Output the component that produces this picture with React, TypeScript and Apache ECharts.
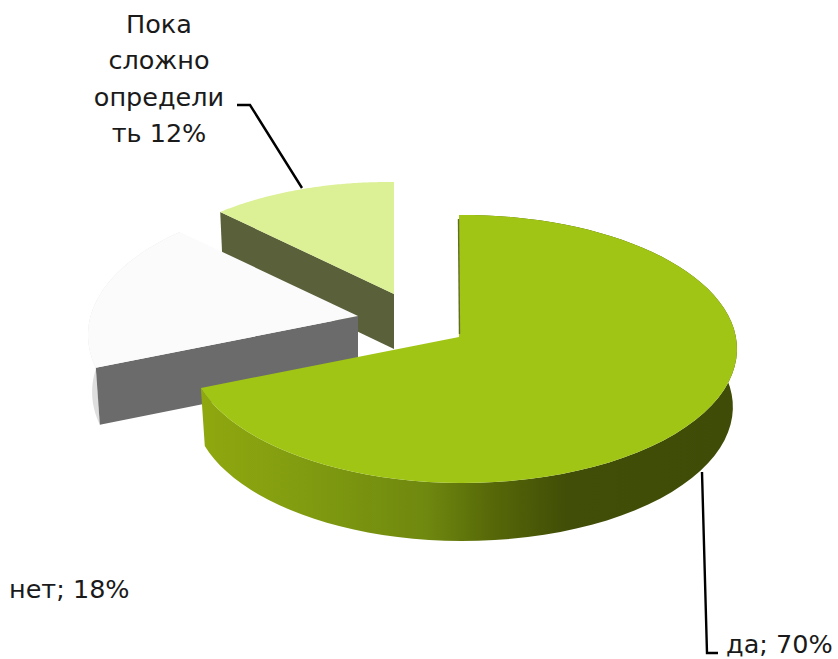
import React, { useEffect, useRef } from "react";
import * as echarts from "echarts";

const categories = ["да", "нет", "Пока сложно определить"];
const values = [70, 18, 12];
const wrappedLabel = ["Пока", "сложно", "определи", "ть 12%"];

const FONT = "'DejaVu Sans'";
const TILT_Y = 0.482;
const TILT_X = -0.041;
const SAMPLES = 80;
const BOTTOM_SCALE = 0.985;

// Screen geometry of each slice (apex, outer ellipse, extrusion depth, paint order)
const geometry = [
  { ax: 459, ay: 337, cx: 463, cy: 349, rx: 274, ry: 134, depth: 58, z: 30 },
  { ax: 358, ay: 316, cx: 362, cy: 335, rx: 274, ry: 138, depth: 57, z: 20 },
  { ax: 394, ay: 294, cx: 388, cy: 311, rx: 262, ry: 129, depth: 55, z: 10 },
];

const edgePoint = (g: any, theta: number) => {
  const dx = Math.sin(theta);
  const dy = -TILT_Y * Math.cos(theta) + TILT_X * Math.sin(theta);
  const ox = g.ax - g.cx;
  const oy = g.ay - g.cy;
  const a = (dx * dx) / (g.rx * g.rx) + (dy * dy) / (g.ry * g.ry);
  const b = 2 * ((ox * dx) / (g.rx * g.rx) + (oy * dy) / (g.ry * g.ry));
  const c = (ox * ox) / (g.rx * g.rx) + (oy * oy) / (g.ry * g.ry) - 1;
  const t = (-b + Math.sqrt(b * b - 4 * a * c)) / (2 * a);
  return [g.ax + t * dx, g.ay + t * dy];
};

const arcPoints = (g: any, from: number, to: number) => {
  const pts: number[][] = [];
  for (let i = 0; i <= SAMPLES; i++) pts.push(edgePoint(g, from + ((to - from) * i) / SAMPLES));
  return pts;
};

// Lower rim of a slice: dropped by its depth and pulled in slightly by the perspective
const lower = (g: any, p: number[]) => [g.cx + (p[0] - g.cx) * BOTTOM_SCALE, p[1] + g.depth];

const sideGradient = () =>
  new echarts.graphic.LinearGradient(
    203, 0, 737, 0,
    [
      { offset: 0, color: "#8fa80f" },
      { offset: 0.2, color: "#809b10" },
      { offset: 0.42, color: "#6f880f" },
      { offset: 0.54, color: "#566808" },
      { offset: 0.68, color: "#414e07" },
      { offset: 1, color: "#3f4c07" },
    ],
    true
  );

const renderSlice = (params: any, api: any) => {
  const idx = params.dataIndex;
  const total = values.reduce((s, v) => s + v, 0);
  const before = values.slice(0, idx).reduce((s, v) => s + v, 0);
  const from = (before / total) * Math.PI * 2;
  const to = ((before + api.value(0)) / total) * Math.PI * 2;
  const g = geometry[idx];
  const arc = arcPoints(g, from, to);
  const apex = [g.ax, g.ay];
  const poly = (points: number[][], fill: any, z2: number) => ({
    type: "polygon",
    shape: { points },
    style: { fill },
    z2,
  });
  const wall = (p: number[], fill: any, z2: number) =>
    poly([apex, p, lower(g, p), [apex[0], apex[1] + g.depth]], fill, z2);
  const curved = (fill: any, z2: number) =>
    poly([...arc, ...arc.map((p) => lower(g, p)).reverse()], fill, z2);
  const top = (fill: any, z2: number) => poly([apex, ...arc], fill, z2);
  const children: any[] = [];
  if (idx === 0) {
    children.push(curved(sideGradient(), g.z));
    children.push(top("#a0c514", g.z + 1));
    children.push({
      type: "line",
      shape: { x1: arc[0][0] - 0.5, y1: arc[0][1] + 4, x2: apex[0] + 0.5, y2: apex[1] - 3 },
      style: { stroke: "#5f6e25", lineWidth: 1.4 },
      z2: g.z + 2,
    });
  } else if (idx === 1) {
    children.push(curved("#dedede", g.z));
    children.push(wall(arc[0], "#6b6b6b", g.z + 1));
    children.push(top("#fbfbfb", g.z + 2));
  } else {
    children.push(wall(arc[0], "#5a6039", g.z));
    children.push(top("#dcf095", g.z + 1));
  }
  return { type: "group", children };
};

const label = (text: string, x: number, y: number, align: string) => ({
  type: "text",
  x,
  y,
  z: 50,
  style: {
    text,
    x: 0,
    y: 0,
    fill: "#1a1a1a",
    font: `25.5px ${FONT}, sans-serif`,
    textAlign: align,
    textVerticalAlign: "middle",
  },
});

const leader = (points: number[][]) => ({
  type: "polyline",
  z: 50,
  shape: { points },
  style: { stroke: "#000000", lineWidth: 2.4, fill: "none" },
});

export default function App() {
  const ref = useRef<HTMLDivElement>(null);
  useEffect(() => {
    const chart = echarts.init(ref.current!, null, { renderer: "svg" });
    chart.setOption({
      animation: false,
      backgroundColor: "#ffffff",
      series: [
        {
          type: "custom",
          coordinateSystem: "none",
          renderItem: renderSlice,
          data: categories.map((name, i) => ({ name, value: [values[i]] })),
          silent: true,
        },
      ],
      graphic: [
        label(wrappedLabel[0], 159, 24, "center"),
        label(wrappedLabel[1], 159, 60, "center"),
        label(wrappedLabel[2], 159, 97, "center"),
        label(wrappedLabel[3], 159, 133, "center"),
        label(`${categories[1]}; ${values[1]}%`, 9, 589, "left"),
        label(`${categories[0]}; ${values[0]}%`, 726, 644, "left"),
        leader([[237, 105], [250, 105], [302, 188]]),
        leader([[702, 472], [707, 653], [718, 653]]),
      ],
    });
    return () => chart.dispose();
  }, []);
  return (
    <div
      ref={ref}
      style={{ position: "fixed", left: 0, top: 0, width: 838, height: 659 }}
    />
  );
}
